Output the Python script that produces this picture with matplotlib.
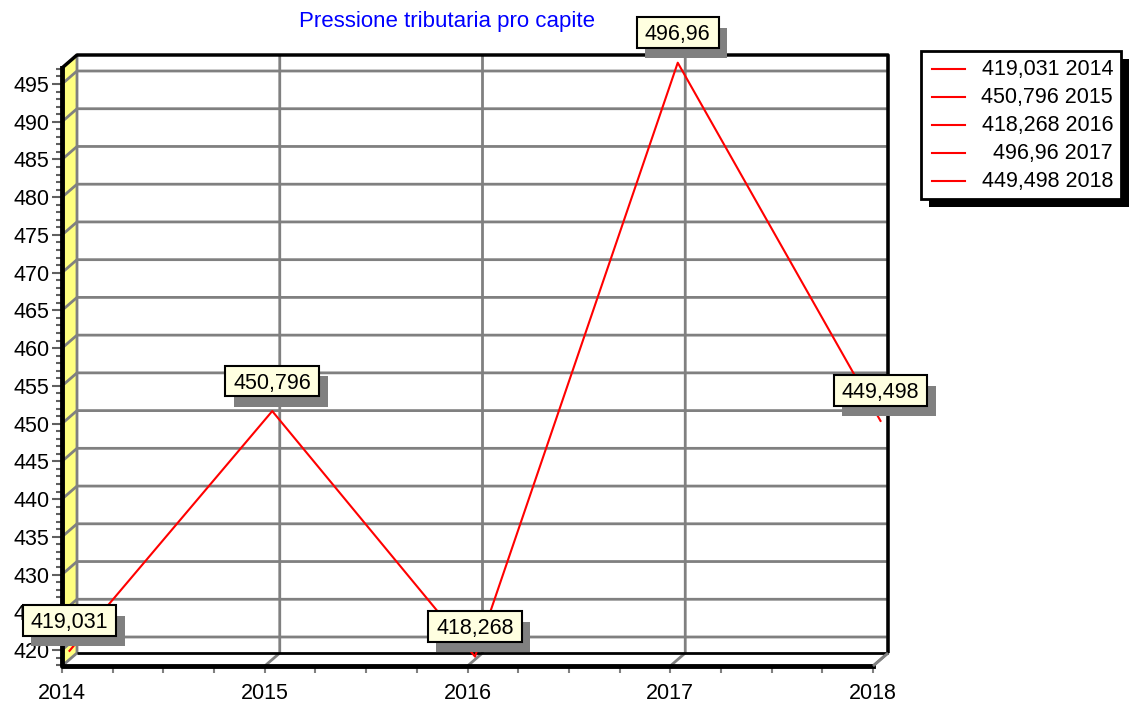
import matplotlib
matplotlib.use("Agg")
import matplotlib.pyplot as plt
import matplotlib.patheffects as pe
from matplotlib.patches import Polygon, Rectangle
from matplotlib.lines import Line2D
from matplotlib.path import Path
from matplotlib.transforms import ScaledTranslation
from matplotlib.ticker import MultipleLocator, FormatStrFormatter

anni = [2014, 2015, 2016, 2017, 2018]
valori = [419.031, 450.796, 418.268, 496.96, 449.498]
titolo = "Pressione tributaria pro capite"


def fmt(v):
    return f"{v:g}".replace(".", ",")


# box of the value labels: wider than tall, digits sit high in the text box
def scatola(x0, y0, width, height, mutation_size):
    px = 0.38 * mutation_size
    a, b = x0 - px, y0 - 0.12 * mutation_size
    c, d = x0 + width + px, y0 + height + 0.32 * mutation_size
    return Path([(a, b), (c, b), (c, d), (a, d), (a, b)], closed=True)


plt.rcParams['font.family'] = ['Liberation Sans', 'DejaVu Sans']
plt.rcParams['font.size'] = 15.5

W, H = 1129, 707
fig = plt.figure(figsize=(W / 100, H / 100), dpi=100)

# front face of the pseudo 3d box (pixels), back wall is shifted by DX, DY
x0, x1, y0, y1 = 62, 873, 68, 666
DX, DY = 15, 13
xmin, xmax = 2014, 2018
ymin, ymax = 417.88, 497.12

ax = fig.add_axes([x0 / W, 1 - y1 / H, (x1 - x0) / W, (y1 - y0) / H])
ax.set_xlim(xmin, xmax)
ax.set_ylim(ymin, ymax)
ax.patch.set_visible(False)
for s in ax.spines.values():
    s.set_visible(False)

# depth shift in data units
bdx = DX / ((x1 - x0) / (xmax - xmin))
bdy = DY / ((y1 - y0) / (ymax - ymin))

grigio = '#808080'
kw = dict(clip_on=False, solid_capstyle='butt')

# yellow side wall
ax.add_patch(Polygon([(xmin, ymin), (xmin, ymax), (xmin + bdx, ymax + bdy), (xmin + bdx, ymin + bdy)],
                     closed=True, fc='#FFFF80', ec='none', zorder=0, clip_on=False))

# grid on the back wall and diagonals on the side wall / floor
for yv in range(420, 500, 5):
    ax.plot([xmin, xmin + bdx, xmax + bdx], [yv, yv + bdy, yv + bdy], color=grigio, lw=2, zorder=1, **kw)
for xv in anni:
    ax.plot([xv, xv + bdx, xv + bdx], [ymin, ymin + bdy, ymax + bdy], color=grigio, lw=2, zorder=1, **kw)

# box edges
ax.plot([xmin, xmin + bdx, xmax + bdx, xmax + bdx], [ymax, ymax + bdy, ymax + bdy, ymin + bdy],
        color='black', lw=2.5, zorder=2, **kw)
ax.plot([xmin + bdx, xmax + bdx], [ymin + bdy, ymin + bdy], color='black', lw=2, zorder=2, **kw)
ax.plot([xmin, xmin, xmax], [ymax, ymin, ymin], color='black', lw=3.5, zorder=2, clip_on=False)
ax.plot([xmax, xmax + bdx], [ymin, ymin + bdy], color=grigio, lw=2, zorder=2, **kw)

# ticks
ax.yaxis.set_major_locator(MultipleLocator(5))
ax.yaxis.set_minor_locator(MultipleLocator(1))
ax.xaxis.set_major_locator(MultipleLocator(1))
ax.xaxis.set_minor_locator(MultipleLocator(0.25))
ax.xaxis.set_major_formatter(FormatStrFormatter('%d'))
ax.yaxis.set_major_formatter(FormatStrFormatter('%d'))
ax.tick_params(axis='y', which='major', length=7, width=1.5, color='#606060', pad=2)
ax.tick_params(axis='y', which='minor', length=4.5, width=1.5, color='#606060')
ax.tick_params(axis='x', which='both', length=5, width=1.5, color=grigio, pad=7)

# data line sits half way in depth
mid = ax.transData + ScaledTranslation(DX / 200, DY / 200, fig.dpi_scale_trans)
ax.plot(anni, valori, color='red', lw=1.5, transform=mid, zorder=3, clip_on=False)

for xv, v in zip(anni, valori):
    t = ax.annotate(fmt(v), xy=(xv, v), xycoords=mid, xytext=(0, 28), textcoords='offset pixels',
                    ha='center', va='center', zorder=5, annotation_clip=False,
                    bbox=dict(boxstyle=scatola, fc='#FFFFE0', ec='black', lw=1.5))
    t.get_bbox_patch().set_path_effects([
        pe.SimplePatchShadow(offset=(6, -7.5), shadow_rgbFace=grigio, alpha=1), pe.Normal()])

# title
fig.text(447 / W, 1 - 22 / H, titolo, color='#0000FF', ha='center', va='center', fontsize=16)

# legend drawn by hand (labels right aligned)
box = Rectangle((921 / W, 1 - 199 / H), 200 / W, 148 / H, transform=fig.transFigure,
                fc='white', ec='black', lw=2)
box.set_path_effects([pe.SimplePatchShadow(offset=(5.5, -5.5), shadow_rgbFace='black', alpha=1), pe.Normal()])
fig.add_artist(box)
for i, (xv, v) in enumerate(zip(anni, valori)):
    yy = 1 - (69 + 28 * i) / H
    fig.add_artist(Line2D([932 / W, 965 / W], [yy, yy], color='red', lw=1.5))
    fig.text(1113 / W, yy, f"{fmt(v)} {xv}", ha='right', va='center')

fig.savefig('out.png', dpi=100)
